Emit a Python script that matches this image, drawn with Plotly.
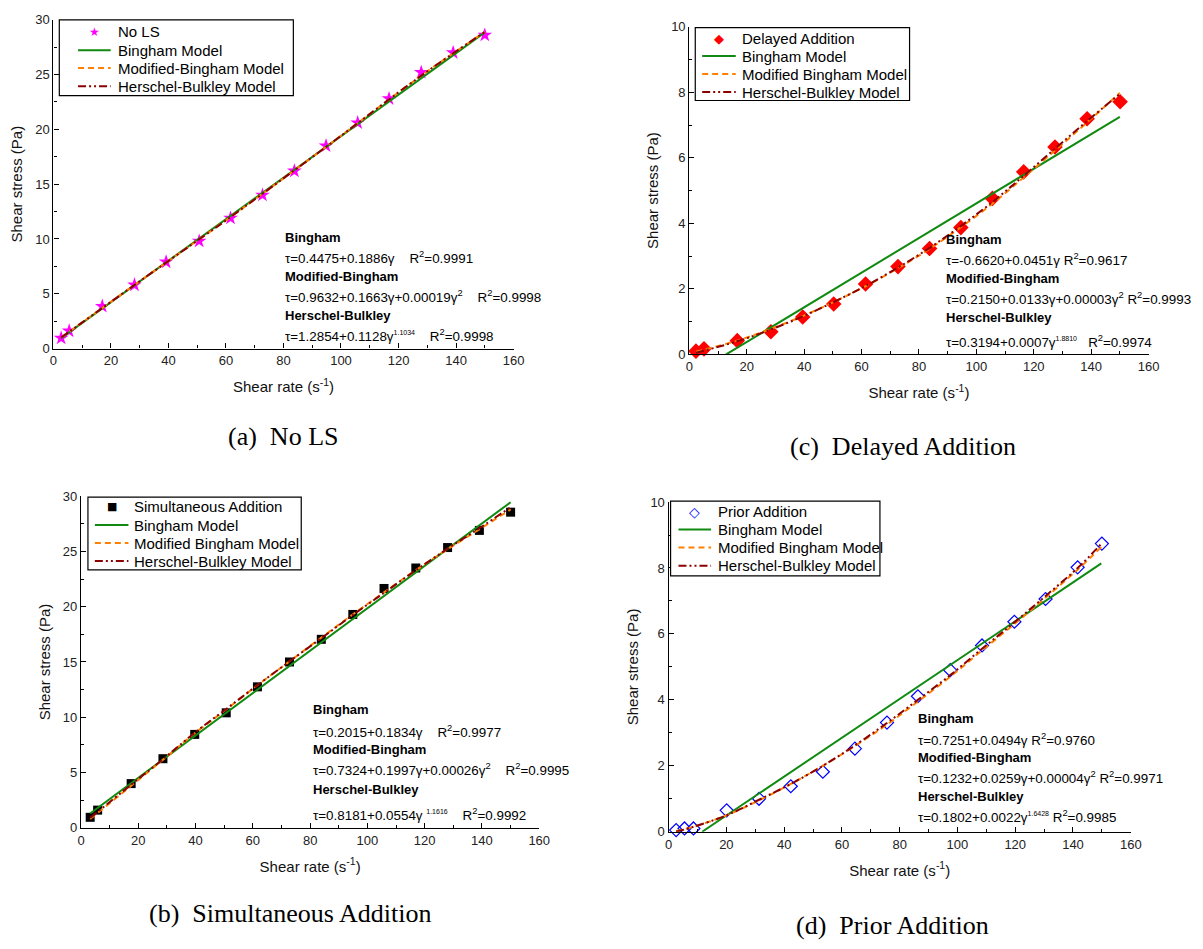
import plotly.graph_objects as go

W, H = 1203, 949

# ---------------- data ----------------
# (a) No LS
shear_a = [2.7, 5.5, 17.0, 28.2, 39.2, 50.7, 61.6, 72.7, 83.8, 94.8, 105.8, 116.7, 127.9, 139.0, 150.0]
stress_a = [0.95, 1.6, 3.85, 5.8, 7.9, 9.8, 11.9, 14.0, 16.2, 18.5, 20.6, 22.8, 25.2, 27.0, 28.6]
bing_x_a = [2.7, 150.0]
bing_y_a = [0.95, 28.85]
model_x_a = [2.7, 28.2, 61.6, 94.8, 127.9, 150.0]
mb_y_a = [1.0, 5.8, 12.0, 18.4, 24.9, 28.9]
hb_y_a = [1.0, 5.8, 12.0, 18.4, 24.9, 28.9]

# (b) Simultaneous Addition
shear_b = [3.2, 5.8, 17.5, 28.6, 39.7, 50.7, 61.6, 72.8, 83.9, 94.9, 105.8, 116.9, 128.0, 139.1, 150.0]
stress_b = [0.95, 1.6, 4.0, 6.25, 8.45, 10.4, 12.75, 15.0, 17.05, 19.3, 21.65, 23.5, 25.35, 26.9, 28.55]
bing_x_b = [3.2, 150.0]
bing_y_b = [1.3, 29.45]
model_x_b = [3.2, 17.5, 28.6, 39.7, 50.7, 61.6, 72.8, 83.9, 94.9, 105.8, 116.9, 128.0, 139.1, 150.0]
mb_y_b = [0.8, 3.8, 6.15, 8.55, 10.7, 12.9, 15.05, 17.2, 19.3, 21.3, 23.3, 25.2, 27.0, 28.8]
hb_y_b = [0.9, 3.9, 6.2, 8.6, 10.75, 12.9, 15.05, 17.15, 19.25, 21.25, 23.3, 25.25, 27.1, 29.0]

# (c) Delayed Addition
shear_c = [2.3, 5.1, 16.7, 28.4, 39.5, 50.3, 61.4, 72.7, 83.7, 94.6, 105.6, 116.5, 127.4, 138.6, 150.1]
stress_c = [0.10, 0.17, 0.42, 0.69, 1.14, 1.54, 2.15, 2.68, 3.23, 3.87, 4.76, 5.57, 6.33, 7.19, 7.71]
bing_x_c = [12.8, 150.0]
bing_y_c = [0.0, 7.25]
model_x_c = [2.3, 16.7, 28.4, 39.5, 50.3, 61.4, 72.7, 83.7, 94.6, 105.6, 116.5, 127.4, 138.6, 150.0]
mb_y_c = [0.08, 0.42, 0.78, 1.17, 1.6, 2.08, 2.63, 3.22, 3.88, 4.6, 5.4, 6.22, 7.08, 7.98]
hb_y_c = [0.05, 0.40, 0.76, 1.16, 1.6, 2.09, 2.65, 3.25, 3.92, 4.65, 5.45, 6.28, 7.12, 7.95]

# (d) Prior Addition
shear_d = [2.6, 5.5, 8.6, 20.1, 31.3, 42.3, 53.4, 64.5, 75.6, 86.3, 97.5, 108.5, 119.7, 130.5, 141.6, 150.0]
stress_d = [0.05, 0.1, 0.1, 0.65, 1.0, 1.38, 1.82, 2.52, 3.31, 4.11, 4.9, 5.65, 6.37, 7.06, 8.02, 8.74]
bing_x_d = [11.6, 149.8]
bing_y_d = [0.0, 8.14]
model_x_d = [2.6, 8.6, 20.1, 31.3, 42.3, 53.4, 64.5, 75.6, 86.3, 97.5, 108.5, 119.7, 130.5, 141.6, 150.0]
mb_y_d = [0.02, 0.15, 0.5, 0.95, 1.45, 2.0, 2.6, 3.25, 3.95, 4.7, 5.5, 6.3, 7.1, 7.95, 8.65]
hb_y_d = [0.0, 0.15, 0.5, 0.97, 1.45, 2.0, 2.62, 3.3, 4.0, 4.75, 5.55, 6.35, 7.15, 8.0, 8.75]

# legend labels / annotation text
labels_a = ["No LS", "Bingham Model", "Modified-Bingham Model", "Herschel-Bulkley Model"]
labels_b = ["Simultaneous Addition", "Bingham Model", "Modified Bingham Model", "Herschel-Bulkley Model"]
labels_c = ["Delayed Addition", "Bingham Model", "Modified Bingham Model", "Herschel-Bulkley Model"]
labels_d = ["Prior Addition", "Bingham Model", "Modified Bingham Model", "Herschel-Bulkley Model"]

SUP = "<sup>2</sup>"
def ex(s):
    return "<sup><span style='font-size:7px'>" + s + "</span></sup>"

eq_a = ["<b>Bingham</b>",
        "τ=0.4475+0.1886γ    R" + SUP + "=0.9991",
        "<b>Modified-Bingham</b>",
        "τ=0.9632+0.1663γ+0.00019γ" + SUP + "    R" + SUP + "=0.9998",
        "<b>Herschel-Bulkley</b>",
        "τ=1.2854+0.1128γ" + ex("1.1034") + "    R" + SUP + "=0.9998"]
eq_b = ["<b>Bingham</b>",
        "τ=0.2015+0.1834γ    R" + SUP + "=0.9977",
        "<b>Modified-Bingham</b>",
        "τ=0.7324+0.1997γ+0.00026γ" + SUP + "    R" + SUP + "=0.9995",
        "<b>Herschel-Bulkley</b>",
        "τ=0.8181+0.0554γ " + ex("1.1616") + "    R" + SUP + "=0.9992"]
eq_c = ["<b>Bingham</b>",
        "τ=-0.6620+0.0451γ R" + SUP + "=0.9617",
        "<b>Modified-Bingham</b>",
        "τ=0.2150+0.0133γ+0.00003γ" + SUP + " R" + SUP + "=0.9993",
        "<b>Herschel-Bulkley</b>",
        "τ=0.3194+0.0007γ" + ex("1.8810") + "   R" + SUP + "=0.9974"]
eq_d = ["<b>Bingham</b>",
        "τ=0.7251+0.0494γ R" + SUP + "=0.9760",
        "<b>Modified-Bingham</b>",
        "τ=0.1232+0.0259γ+0.00004γ" + SUP + " R" + SUP + "=0.9971",
        "<b>Herschel-Bulkley</b>",
        "τ=0.1802+0.0022γ" + ex("1.6428") + " R" + SUP + "=0.9985"]

captions = ["(a)&nbsp;&nbsp;No LS", "(b)&nbsp;&nbsp;Simultaneous Addition",
            "(c)&nbsp;&nbsp;Delayed Addition", "(d)&nbsp;&nbsp;Prior Addition"]

# ---------------- styling / geometry (pixels) ----------------
SANS = "Liberation Sans, Arial, sans-serif"
SERIF = "Liberation Serif, Times New Roman, serif"
GREEN = "#108A10"
ORANGE = "#FF8000"
DRED = "#8B0000"
DASH_MB = "6px,4px"
DASH_HB = "8px,3px,2px,3px,2px,3px"

panels = [
    dict(ax="", x0=50, x1=516, yt=13, yb=347, ymax=30, dy=5,
         sx=shear_a, sy=stress_a, bx=bing_x_a, by=bing_y_a, mx=model_x_a, mb=mb_y_a, hb=hb_y_a,
         marker=dict(symbol="star", size=11, color="#FF00FF"), glyph=("★", "#FF00FF", 12),
         labels=labels_a, eq=eq_a, eqx=283, eqy=234, eqoff=[0, 21, 40, 60, 79, 100],
         box=(56, 293, 13, 90), rows=[25.3, 43.9, 62.1, 80.4], sym=(75, 108), txt=113,
         cap=(283, 436)),
    dict(ax="2", x0=78, x1=542, yt=497, yb=834, ymax=30, dy=5,
         sx=shear_b, sy=stress_b, bx=bing_x_b, by=bing_y_b, mx=model_x_b, mb=mb_y_b, hb=hb_y_b,
         marker=dict(symbol="square", size=9, color="#000000"), glyph=("■", "#000000", 11),
         labels=labels_b, eq=eq_b, eqx=311, eqy=714, eqoff=[0, 22, 40, 61, 81, 106],
         box=(85, 301, 498, 572), rows=[508, 526.4, 544.7, 563], sym=(92, 126), txt=130,
         cap=(290, 921)),
    dict(ax="3", x0=694, x1=1159, yt=20, yb=353, ymax=10, dy=2,
         sx=shear_c, sy=stress_c, bx=bing_x_c, by=bing_y_c, mx=model_x_c, mb=mb_y_c, hb=hb_y_c,
         marker=dict(symbol="diamond", size=12, color="#FF0000"), glyph=("◆", "#FF0000", 13),
         labels=labels_c, eq=eq_c, eqx=952, eqy=236, eqoff=[0, 21, 40, 60, 79, 104],
         box=(700, 917, 21, 95), rows=[31.6, 49.9, 68.1, 86.4], sym=(707, 741), txt=745,
         cap=(910, 447)),
    dict(ax="4", x0=673, x1=1141, yt=503, yb=838, ymax=10, dy=2,
         sx=shear_d, sy=stress_d, bx=bing_x_d, by=bing_y_d, mx=model_x_d, mb=mb_y_d, hb=hb_y_d,
         marker=dict(symbol="diamond-open", size=10, color="#0000FF", line=dict(width=1.2)),
         glyph=("◇", "#0000FF", 14),
         labels=labels_d, eq=eq_d, eqx=924, eqy=723, eqoff=[0, 21, 40, 60, 79, 100],
         box=(675, 887, 502, 578), rows=[512.7, 531, 549.3, 567.7], sym=(683, 716), txt=721,
         cap=(900, 933)),
]

def px(x):
    return x / W

def py(y):
    return 1 - y / H

fig = go.Figure()
annotations = []
shapes = []
layout = {}

for i, p in enumerate(panels):
    xa = "x" + p["ax"]
    ya = "y" + p["ax"]
    fig.add_trace(go.Scatter(x=p["sx"], y=p["sy"], mode="markers", marker=p["marker"],
                             name=p["labels"][0], xaxis=xa, yaxis=ya, cliponaxis=False))
    fig.add_trace(go.Scatter(x=p["bx"], y=p["by"], mode="lines",
                             line=dict(color=GREEN, width=2), name=p["labels"][1],
                             xaxis=xa, yaxis=ya, cliponaxis=False))
    fig.add_trace(go.Scatter(x=p["mx"], y=p["mb"], mode="lines",
                             line=dict(color=ORANGE, width=2, dash=DASH_MB, shape="spline"),
                             name=p["labels"][2], xaxis=xa, yaxis=ya, cliponaxis=False))
    fig.add_trace(go.Scatter(x=p["mx"], y=p["hb"], mode="lines",
                             line=dict(color=DRED, width=2, dash=DASH_HB, shape="spline"),
                             name=p["labels"][3], xaxis=xa, yaxis=ya, cliponaxis=False))

    layout["xaxis" + p["ax"]] = dict(
        domain=[px(p["x0"]), px(p["x1"])], anchor=ya, range=[0, 160], dtick=20,
        showline=True, linecolor="black", linewidth=1.3, ticks="inside", ticklen=5,
        tickcolor="black", tickwidth=1.3, showgrid=False, zeroline=False,
        minor=dict(ticks="inside", ticklen=3, dtick=10, tickcolor="black", tickwidth=1.3, showgrid=False),
        tickfont=dict(family=SANS, size=13, color="#222"),
        title=dict(text="Shear rate (s<sup>-1</sup>)", font=dict(family=SANS, size=15, color="#111"),
                   standoff=14),
    )
    layout["yaxis" + p["ax"]] = dict(
        domain=[py(p["yb"]), py(p["yt"])], anchor=xa, range=[0, p["ymax"]], dtick=p["dy"],
        showline=True, linecolor="black", linewidth=1.3, ticks="inside", ticklen=5,
        tickcolor="black", tickwidth=1.3, showgrid=False, zeroline=False,
        minor=dict(ticks="inside", ticklen=3, dtick=p["dy"] / 2, tickcolor="black", tickwidth=1.3,
                   showgrid=False),
        tickfont=dict(family=SANS, size=13, color="#222"),
        title=dict(text="Shear stress (Pa)", font=dict(family=SANS, size=15, color="#111"), standoff=8),
    )

    # ---- legend box (drawn) ----
    bx0, bx1, by0, by1 = p["box"]
    shapes.append(dict(type="rect", xref="paper", yref="paper", x0=px(bx0), x1=px(bx1),
                       y0=py(by1), y1=py(by0), line=dict(color="black", width=1.2),
                       fillcolor="white", layer="above"))
    s0, s1 = p["sym"]
    rows = p["rows"]
    g, gc, gs = p["glyph"]
    annotations.append(dict(x=px((s0 + s1) / 2), y=py(rows[0]), xref="paper", yref="paper",
                            xanchor="center", yanchor="middle", showarrow=False, text=g,
                            font=dict(family="DejaVu Sans", size=gs, color=gc)))
    for r, col, dsh in zip(rows[1:], [GREEN, ORANGE, DRED], ["solid", DASH_MB, DASH_HB]):
        shapes.append(dict(type="line", xref="paper", yref="paper", x0=px(s0), x1=px(s1),
                           y0=py(r), y1=py(r), line=dict(color=col, width=2, dash=dsh), layer="above"))
    for r, lab in zip(rows, p["labels"]):
        annotations.append(dict(x=px(p["txt"]), y=py(r), xref="paper", yref="paper",
                                xanchor="left", yanchor="middle", showarrow=False, text=lab,
                                font=dict(family=SANS, size=15, color="black")))

    # ---- equations ----
    for k, (line, off) in enumerate(zip(p["eq"], p["eqoff"])):
        annotations.append(dict(
            x=px(p["eqx"]), y=py(p["eqy"] + off), xref="paper", yref="paper",
            xanchor="left", yanchor="middle", showarrow=False, text=line,
            font=dict(family=SANS, size=13 if k % 2 == 0 else 13.4, color="black")))
    # ---- caption ----
    annotations.append(dict(
        x=px(p["cap"][0]), y=py(p["cap"][1]), xref="paper", yref="paper",
        xanchor="center", yanchor="middle", showarrow=False, text=captions[i],
        font=dict(family=SERIF, size=26, color="black")))

fig.update_layout(
    width=W, height=H, margin=dict(l=0, r=0, t=0, b=0),
    paper_bgcolor="white", plot_bgcolor="white", showlegend=False,
    annotations=annotations, shapes=shapes, **layout)

fig.write_html("out.html")
